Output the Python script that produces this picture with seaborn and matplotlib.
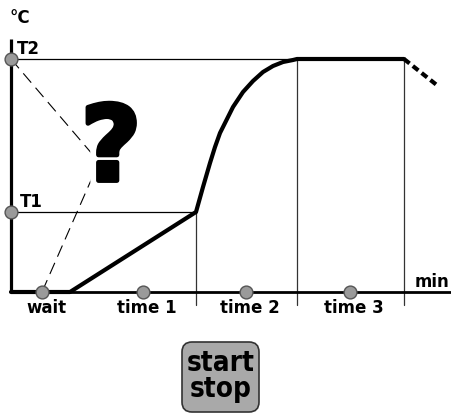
"""Heating profile diagram: wait, ramp, rise, hold."""

import matplotlib.pyplot as plt
import matplotlib.patheffects as pe
from matplotlib.patches import FancyBboxPatch
import pandas as pd
import seaborn as sns

# x in time units from the origin, y in temperature units above the baseline
T1 = 80
T2 = 233
phase_bounds = [185, 286, 393]
phase_labels = ["wait", "time 1", "time 2", "time 3"]
phase_centers = [31, 132, 235, 339]

profile_x = [0, 59, 185, 192, 199, 204, 209, 216, 222, 232, 242,
             252, 262, 272, 282, 286, 393]
profile_y = [0, 0, 80, 105, 129, 145, 159, 173, 185, 200, 211,
             220, 226, 230, 232, 233, 233]
cooldown_x = [393, 427]
cooldown_y = [233, 206]

# the two guesses that meet behind the question mark
guess_x = [0, 88, 31]
guess_y = [T2, 130, 0]


def main():
    sns.set_style("white")
    fig = plt.figure(figsize=(4.52, 4.14), dpi=100)
    ax = fig.add_axes([0, 0, 1, 1])
    ax.set_xlim(-11, 441)
    ax.set_ylim(-121, 293)
    ax.axis("off")

    # reference lines
    ax.plot([0, phase_bounds[1]], [T2, T2], color="black", lw=0.9)
    ax.plot([0, phase_bounds[0]], [T1, T1], color="black", lw=0.9)
    ax.plot([phase_bounds[0]] * 2, [T1, -13], color="#333333", lw=0.9)
    for b in phase_bounds[1:]:
        ax.plot([b, b], [T2, -13], color="#333333", lw=0.9)

    # dashed guesses
    ax.plot(guess_x, guess_y, color="black", lw=0.8, ls=(0, (11, 6)))

    # axes
    ax.plot([0, 441], [0, 0], color="black", lw=2.0, solid_capstyle="butt")
    ax.plot([0, 0], [0, 253], color="black", lw=2.3, solid_capstyle="butt")

    q = ax.text(100, 140, "?", ha="center", va="center", fontsize=75,
                fontweight="heavy", color="black", family="DejaVu Sans")
    q.set_path_effects([pe.withStroke(linewidth=12, foreground="white"),
                        pe.withStroke(linewidth=3.5, foreground="black")])

    df = pd.DataFrame({"x": profile_x, "y": profile_y})
    sns.lineplot(data=df, x="x", y="y", ax=ax, color="black", lw=3.0,
                 sort=False, estimator=None)
    ax.plot(cooldown_x, cooldown_y, color="black", lw=3.0, ls=(0, (1.7, 1.0)))

    pts = pd.DataFrame({
        "x": phase_centers + [0, 0],
        "y": [0] * len(phase_centers) + [T1, T2],
    })
    sns.scatterplot(data=pts, x="x", y="y", ax=ax, s=85, color="#9a9a9a",
                    edgecolor="#555555", linewidth=1, zorder=5)

    bold = dict(fontsize=12, fontweight="bold", color="black")
    for lab, cx in zip(phase_labels, phase_centers):
        ax.text(cx + 4, -15, lab, ha="center", va="center", **bold)
    ax.text(-1, 275, "°C", ha="left", va="center", **bold)
    ax.text(6, 244, "T2", ha="left", va="center", **bold)
    ax.text(9, 91, "T1", ha="left", va="center", **bold)
    ax.text(421, 11, "min", ha="center", va="center", **bold)

    btn = FancyBboxPatch((171, -120), 77, 70,
                         boxstyle="round,pad=0,rounding_size=10",
                         fc="#a9a9a9", ec="#333333", lw=1.2)
    ax.add_patch(btn)
    ax.text(210, -83, "start\nstop", ha="center", va="center",
            fontsize=20, fontweight="bold", fontstretch="condensed",
            linespacing=0.95, family="DejaVu Sans", color="black")

    fig.savefig("out.png", dpi=100)
    plt.close(fig)


if __name__ == "__main__":
    main()
